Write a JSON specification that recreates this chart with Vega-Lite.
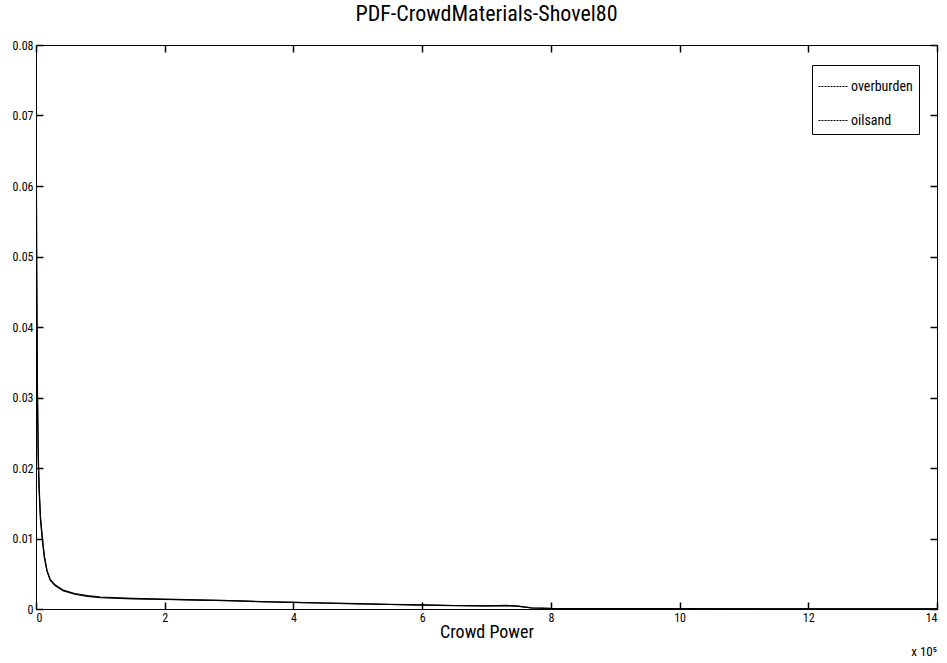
{
  "$schema": "https://vega.github.io/schema/vega-lite/v6.json",
  "width": 901,
  "height": 564,
  "autosize": "none",
  "padding": {"left": 36, "top": 45, "right": 10, "bottom": 54},
  "background": "white",
  "title": {"text": "PDF-CrowdMaterials-Shovel80", "font": "Liberation Sans Narrow, Roboto Condensed, DejaVu Sans Condensed, Liberation Sans", "fontSize": 22, "fontWeight": "normal", "color": "black", "offset": 13},
  "config": {
    "view": {"stroke": "black", "strokeWidth": 1},
    "axis": {"labelFont": "Liberation Sans Narrow, Roboto Condensed, DejaVu Sans Condensed, Liberation Sans", "titleFont": "Liberation Sans Narrow, Roboto Condensed, DejaVu Sans Condensed, Liberation Sans", "labelColor": "black", "titleColor": "black", "grid": false, "labelFontSize": 12, "titleFontWeight": "normal", "titleFontSize": 18}
  },
  "data": {"values": [
    {"s": "overburden", "x": 0, "y": 0.08},
    {"s": "overburden", "x": 0.01, "y": 0.05},
    {"s": "overburden", "x": 0.02, "y": 0.033},
    {"s": "overburden", "x": 0.035, "y": 0.022},
    {"s": "overburden", "x": 0.05, "y": 0.017},
    {"s": "overburden", "x": 0.07, "y": 0.013},
    {"s": "overburden", "x": 0.1, "y": 0.0100},
    {"s": "overburden", "x": 0.13, "y": 0.0075},
    {"s": "overburden", "x": 0.17, "y": 0.0055},
    {"s": "overburden", "x": 0.22, "y": 0.0042},
    {"s": "overburden", "x": 0.3, "y": 0.0034},
    {"s": "overburden", "x": 0.42, "y": 0.0027},
    {"s": "overburden", "x": 0.6, "y": 0.0022},
    {"s": "overburden", "x": 0.8, "y": 0.0019},
    {"s": "overburden", "x": 1.0, "y": 0.0017},
    {"s": "overburden", "x": 1.5, "y": 0.0015},
    {"s": "overburden", "x": 2.0, "y": 0.0014},
    {"s": "overburden", "x": 2.5, "y": 0.0013},
    {"s": "overburden", "x": 3.0, "y": 0.0012},
    {"s": "overburden", "x": 3.5, "y": 0.00105},
    {"s": "overburden", "x": 4.0, "y": 0.00095},
    {"s": "overburden", "x": 4.5, "y": 0.00085},
    {"s": "overburden", "x": 5.0, "y": 0.00075},
    {"s": "overburden", "x": 5.5, "y": 0.00065},
    {"s": "overburden", "x": 6.0, "y": 0.00058},
    {"s": "overburden", "x": 6.5, "y": 0.0005},
    {"s": "overburden", "x": 7.0, "y": 0.00045},
    {"s": "overburden", "x": 7.3, "y": 0.0005},
    {"s": "overburden", "x": 7.5, "y": 0.0004},
    {"s": "overburden", "x": 7.7, "y": 0.00015},
    {"s": "overburden", "x": 8.0, "y": 0.00008},
    {"s": "overburden", "x": 9.0, "y": 0.00005},
    {"s": "overburden", "x": 10.0, "y": 0.00004},
    {"s": "overburden", "x": 12.0, "y": 0.00003},
    {"s": "overburden", "x": 14.0, "y": 0.00002},
    {"s": "oilsand", "x": 0, "y": 0.079},
    {"s": "oilsand", "x": 0.01, "y": 0.048},
    {"s": "oilsand", "x": 0.02, "y": 0.032},
    {"s": "oilsand", "x": 0.035, "y": 0.021},
    {"s": "oilsand", "x": 0.05, "y": 0.0165},
    {"s": "oilsand", "x": 0.07, "y": 0.0126},
    {"s": "oilsand", "x": 0.1, "y": 0.0097},
    {"s": "oilsand", "x": 0.13, "y": 0.0073},
    {"s": "oilsand", "x": 0.17, "y": 0.0054},
    {"s": "oilsand", "x": 0.22, "y": 0.0041},
    {"s": "oilsand", "x": 0.3, "y": 0.0033},
    {"s": "oilsand", "x": 0.42, "y": 0.0026},
    {"s": "oilsand", "x": 0.6, "y": 0.0021},
    {"s": "oilsand", "x": 0.8, "y": 0.0018},
    {"s": "oilsand", "x": 1.0, "y": 0.0016},
    {"s": "oilsand", "x": 1.5, "y": 0.00145},
    {"s": "oilsand", "x": 2.0, "y": 0.00135},
    {"s": "oilsand", "x": 2.5, "y": 0.00127},
    {"s": "oilsand", "x": 3.0, "y": 0.00118},
    {"s": "oilsand", "x": 3.5, "y": 0.00103},
    {"s": "oilsand", "x": 4.0, "y": 0.00093},
    {"s": "oilsand", "x": 4.5, "y": 0.00083},
    {"s": "oilsand", "x": 5.0, "y": 0.00073},
    {"s": "oilsand", "x": 5.5, "y": 0.00064},
    {"s": "oilsand", "x": 6.0, "y": 0.00056},
    {"s": "oilsand", "x": 6.5, "y": 0.00049},
    {"s": "oilsand", "x": 7.0, "y": 0.00044},
    {"s": "oilsand", "x": 7.3, "y": 0.00048},
    {"s": "oilsand", "x": 7.5, "y": 0.00038},
    {"s": "oilsand", "x": 7.7, "y": 0.00014},
    {"s": "oilsand", "x": 8.0, "y": 0.00007},
    {"s": "oilsand", "x": 9.0, "y": 0.00004},
    {"s": "oilsand", "x": 10.0, "y": 0.00003},
    {"s": "oilsand", "x": 12.0, "y": 0.00002},
    {"s": "oilsand", "x": 14.0, "y": 0.00001}
  ]},
  "layer": [
    {
      "mark": {"type": "line", "strokeWidth": 1.2, "clip": true},
      "encoding": {
        "x": {"field": "x", "type": "quantitative", "scale": {"domain": [0, 14], "nice": false, "zero": false}, "axis": {"title": "Crowd Power", "values": [0, 2, 4, 6, 8, 10, 12, 14], "format": "d", "domain": false, "ticks": true, "tickSize": 7, "tickColor": "black", "tickWidth": 1.5, "offset": -7, "labelPadding": 3, "titleY": 21}},
        "y": {"field": "y", "type": "quantitative", "scale": {"domain": [0, 0.08], "nice": false}, "axis": {"title": null, "values": [0, 0.01, 0.02, 0.03, 0.04, 0.05, 0.06, 0.07, 0.08], "format": ".2~f", "domain": false, "ticks": true, "tickSize": 7, "tickColor": "black", "tickWidth": 1.5, "offset": -7, "labelPadding": 3}},
        "color": {"field": "s", "type": "nominal", "scale": {"domain": ["overburden", "oilsand"], "range": ["black", "black"]},
          "legend": {"title": null, "orient": "none", "legendX": 776, "legendY": 20, "strokeColor": "black", "fillColor": "white", "padding": 6, "labelFont": "Liberation Sans Narrow, Roboto Condensed, DejaVu Sans Condensed, Liberation Sans", "labelFontSize": 14, "labelColor": "black", "symbolType": "stroke", "symbolSize": 900, "symbolStrokeWidth": 1, "symbolDash": [2, 1], "rowPadding": 11, "labelOffset": 2, "cornerRadius": 0}}
      }
    },
    {
      "mark": {"type": "line", "opacity": 0},
      "encoding": {
        "x": {"field": "x", "type": "quantitative", "axis": {"orient": "top", "labels": false, "title": null, "values": [0, 2, 4, 6, 8, 10, 12, 14], "domain": false, "ticks": true, "tickSize": 7, "tickColor": "black", "tickWidth": 1.5, "offset": -7}},
        "y": {"field": "y", "type": "quantitative", "axis": {"orient": "right", "labels": false, "title": null, "values": [0, 0.01, 0.02, 0.03, 0.04, 0.05, 0.06, 0.07, 0.08], "domain": false, "ticks": true, "tickSize": 7, "tickColor": "black", "tickWidth": 1.5, "offset": -7}}
      }
    },
    {
      "data": {"values": [{"t": "x 10⁵", "x": 14, "y": 0}]},
      "mark": {"type": "text", "font": "Liberation Sans Narrow, Roboto Condensed, DejaVu Sans Condensed, Liberation Sans", "fontSize": 13, "align": "right", "dy": 43, "color": "black"},
      "encoding": {"text": {"field": "t"}, "x": {"field": "x", "type": "quantitative", "axis": null}, "y": {"field": "y", "type": "quantitative", "axis": null}}
    }
  ],
  "resolve": {"axis": {"x": "independent", "y": "independent"}}
}
